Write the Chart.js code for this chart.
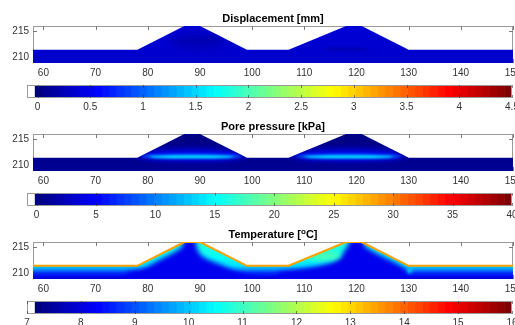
<!DOCTYPE html>
<html>
<head>
<meta charset="utf-8">
<script src="https://cdn.jsdelivr.net/npm/chart.js@4.4.1/dist/chart.umd.min.js"></script>
<style>
  html, body { margin: 0; padding: 0; background: #ffffff; }
  #wrap { position: relative; width: 515px; height: 325px; overflow: hidden; background: #ffffff; }
  #wrap canvas { position: absolute; left: 0; top: 0; }
</style>
</head>
<body>
<div id="wrap"></div>
<script>
// ---- Section geometry: stations (m) and ground-surface elevation (m) ----
const stations = [58, 78, 87, 90, 99, 107, 118, 121, 130, 150];
const surface  = [211.5, 211.5, 216, 216, 211.5, 211.5, 216, 216, 211.5, 211.5];
const xTicks = [60, 70, 80, 90, 100, 110, 120, 130, 140, 150];
const yTicks = [210, 215];
const xRange = [58, 150];
const yRange = [209, 216];

// ---- Displacement [mm] ----
const dispLimits = [-0.1, 4.5];
const dispTicks = [0, 0.5, 1, 1.5, 2, 2.5, 3, 3.5, 4, 4.5];
const dispProfileElev = [209, 211.5, 216];
const dispProfileVal  = [0.31, 0.32, 0.36];
// zones: [station, elevation, half-width, half-height, value]
const dispZones = [
  [89.7, 213.2, 5.5, 1.4, 0.2],
  [118.0, 211.6, 4.5, 0.25, 0.16]
];

// ---- Pore pressure [kPa] ----
const poreLimits = [-0.8, 40];
const poreTicks = [0, 5, 10, 15, 20, 25, 30, 35, 40];
const poreProfileElev = [209, 211.5, 216];
const poreProfileVal  = [0.6, 0.4, 0.0];
const poreZones = [
  [88.4, 212.0, 10.5, 1.0, 5.0],
  [88.4, 211.75, 9.5, 0.45, 9.5],
  [88.4, 211.7, 8.0, 0.2, 15.0],
  [118.5, 212.0, 11.0, 1.0, 5.0],
  [118.5, 211.75, 10.0, 0.45, 9.5],
  [118.5, 211.7, 8.5, 0.2, 15.0]
];

// ---- Temperature [°C] ----
const tempLimits = [7, 16];
const tempTicks = [7, 8, 9, 10, 11, 12, 13, 14, 15, 16];
const tempProfileElev = [209, 209.4, 210.2, 210.8, 211.5, 213, 216];
const tempProfileVal  = [7.9, 8.1, 8.7, 9.5, 10.2, 10.5, 10.8];
const coldCore1Station = [76.0, 76.0, 78.5, 80.0, 82.0, 84.5, 86.5, 87.0, 89.2, 89.3, 89.6, 90.2, 91.5, 94.0, 96.5, 99.0, 101.0, 101.0];
const coldCore1Elev    = [208.0, 210.3, 210.7, 211.3, 212.5, 213.75, 214.9, 216.5, 216.5, 215.3, 214.4, 213.5, 212.7, 211.7, 210.5, 209.6, 209.2, 208.0];
const coldCore2Station = [105.0, 105.0, 109.0, 112.5, 115.5, 117.0, 117.7, 118.3, 118.8, 121.3, 121.6, 124.0, 127.0, 129.2, 129.5, 129.6];
const coldCore2Elev    = [208.0, 210.3, 210.8, 211.4, 212.2, 213.2, 214.3, 215.2, 216.5, 216.5, 215.1, 213.8, 212.3, 211.1, 210.3, 208.0];
const coldCoreValue = 8.1;
const tempZones = [
  [113.5, 213.4, 3.5, 0.9, 11.1],
  [130.2, 210.6, 0.45, 0.55, 10.0]
];
const surfaceTemp = 13.5;

// ---- Colour map: white lowest bin followed by 64 jet levels ----
function jet(t) {
  t = Math.min(1, Math.max(0, t));
  const c = v => Math.round(255 * Math.min(1, Math.max(0, v)));
  return [c(Math.min(4 * t - 1.5, 4.5 - 4 * t)), c(Math.min(4 * t - 0.5, 3.5 - 4 * t)), c(Math.min(4 * t + 0.5, 2.5 - 4 * t))];
}
function fieldColor(v, lim) {
  const bin = (v - lim[0]) / (lim[1] - lim[0]) * 65;
  if (bin < 1) return [255, 255, 255];
  return jet((bin - 1) / 64);
}
const css = c => `rgb(${c[0]},${c[1]},${c[2]})`;

const FONT = '"Liberation Sans", Arial, Helvetica, sans-serif';
const TEXT = '#333333';
const FRAME = '#9a9a9a';

const panels = [
  { title: [{ t: 'Displacement [mm]' }], limits: dispLimits, ticks: dispTicks,
    profileElev: dispProfileElev, profileVal: dispProfileVal, cores: [], zones: dispZones, surfaceValue: null },
  { title: [{ t: 'Pore pressure [kPa]' }], limits: poreLimits, ticks: poreTicks,
    profileElev: poreProfileElev, profileVal: poreProfileVal, cores: [], zones: poreZones, surfaceValue: null },
  { title: [{ t: 'Temperature [' }, { t: 'o', sup: true }, { t: 'C]' }], limits: tempLimits, ticks: tempTicks,
    profileElev: tempProfileElev, profileVal: tempProfileVal,
    cores: [
      { x: coldCore1Station, y: coldCore1Elev, value: coldCoreValue },
      { x: coldCore2Station, y: coldCore2Elev, value: coldCoreValue }
    ],
    zones: tempZones, surfaceValue: surfaceTemp }
];

// ---- Layout of the three panels ----
const W = 515, H = 325;
const fieldTop = [26, 134, 242];
const fieldHeight = 37;
const fieldLeft = 33, fieldRight = 513;
const barOffset = 59, barHeight = 13;
const barLeft = 27, barRight = 512;
const labelBand = 20;

function fixedFit(size) {
  return scale => {
    if (scale.isHorizontal()) scale.height = size; else scale.width = size;
    scale.paddingLeft = scale.paddingRight = scale.paddingTop = scale.paddingBottom = 0;
  };
}
const tickFont = { family: FONT, size: 10 };
const noGrid = { display: false, drawTicks: false };

function makeCanvas() {
  const c = document.createElement('canvas');
  c.width = W; c.height = H;
  c.style.width = W + 'px'; c.style.height = H + 'px';
  document.getElementById('wrap').appendChild(c);
  return c;
}

// Paints the field inside the section outline taken from the surface dataset
function fieldPainter(f) {
  return {
    id: 'fieldPainter',
    beforeDatasetsDraw(chart) {
      const { ctx, chartArea: a, scales: { x, y } } = chart;
      const pts = chart.getDatasetMeta(0).data;
      const base = y.getPixelForValue(y.min);
      ctx.save();
      ctx.beginPath();
      pts.forEach((p, i) => i ? ctx.lineTo(p.x, p.y) : ctx.moveTo(p.x, p.y));
      ctx.lineTo(pts[pts.length - 1].x, base);
      ctx.lineTo(pts[0].x, base);
      ctx.closePath();
      ctx.clip();

      const e0 = f.profileElev[0], e1 = f.profileElev[f.profileElev.length - 1];
      const g = ctx.createLinearGradient(0, y.getPixelForValue(e0), 0, y.getPixelForValue(e1));
      f.profileElev.forEach((e, i) => g.addColorStop((e - e0) / (e1 - e0), css(fieldColor(f.profileVal[i], f.limits))));
      ctx.fillStyle = g;
      ctx.fillRect(a.left, a.top, a.right - a.left, a.bottom - a.top);

      f.cores.forEach(c => {
        ctx.save();
        ctx.filter = 'blur(2.5px)';
        ctx.fillStyle = css(fieldColor(c.value, f.limits));
        ctx.beginPath();
        c.x.forEach((xv, i) => {
          const px = x.getPixelForValue(xv), py = y.getPixelForValue(c.y[i]);
          i ? ctx.lineTo(px, py) : ctx.moveTo(px, py);
        });
        ctx.closePath();
        ctx.fill();
        ctx.restore();
      });

      f.zones.forEach(([cx, cy, rx, ry, v]) => {
        const px = x.getPixelForValue(cx), py = y.getPixelForValue(cy);
        const rpx = Math.abs(x.getPixelForValue(cx + rx) - px);
        const rpy = Math.abs(y.getPixelForValue(cy + ry) - py);
        ctx.save();
        ctx.filter = `blur(${(0.5 * rpy + 0.3).toFixed(2)}px)`;
        ctx.fillStyle = css(fieldColor(v, f.limits));
        ctx.beginPath();
        ctx.ellipse(px, py, rpx, rpy, 0, 0, Math.PI * 2);
        ctx.fill();
        ctx.restore();
      });
      ctx.restore();
    }
  };
}

// Axes box with inward tick marks (drawn beneath the field)
const axesBox = {
  id: 'axesBox',
  beforeDatasetsDraw(chart) {
    const { ctx, chartArea: a, scales: { x, y } } = chart;
    ctx.save();
    ctx.strokeStyle = FRAME;
    ctx.lineWidth = 1;
    ctx.strokeRect(a.left + 0.5, a.top + 0.5, a.right - a.left - 1, a.bottom - a.top - 1);
    ctx.strokeStyle = '#7a7a7a';
    ctx.beginPath();
    x.ticks.forEach(t => {
      const px = Math.round(x.getPixelForValue(t.value)) + 0.5;
      ctx.moveTo(px, a.top); ctx.lineTo(px, a.top + 4);
      ctx.moveTo(px, a.bottom); ctx.lineTo(px, a.bottom - 4);
    });
    y.ticks.forEach(t => {
      const py = Math.round(y.getPixelForValue(t.value)) + 0.5;
      ctx.moveTo(a.left, py); ctx.lineTo(a.left + 4, py);
      ctx.moveTo(a.right, py); ctx.lineTo(a.right - 4, py);
    });
    ctx.stroke();
    ctx.restore();
  }
};

// Panel heading, with optional superscript segment
function headingPlugin(segments) {
  return {
    id: 'heading',
    afterDraw(chart) {
      const { ctx, chartArea: a } = chart;
      const big = `bold 11px ${FONT}`, small = `bold 8px ${FONT}`;
      ctx.save();
      ctx.fillStyle = '#000000';
      ctx.textBaseline = 'alphabetic';
      let total = 0;
      segments.forEach(s => { ctx.font = s.sup ? small : big; total += ctx.measureText(s.t).width; });
      let xPos = (a.left + a.right) / 2 - total / 2;
      const base = a.top - 4;
      segments.forEach(s => {
        ctx.font = s.sup ? small : big;
        ctx.textAlign = 'left';
        ctx.fillText(s.t, xPos, s.sup ? base - 4.5 : base);
        xPos += ctx.measureText(s.t).width;
      });
      ctx.restore();
    }
  };
}

// Colour bar frame and tick marks
const barFrame = {
  id: 'barFrame',
  afterDatasetsDraw(chart) {
    const { ctx, chartArea: a, scales: { x } } = chart;
    ctx.save();
    ctx.strokeStyle = FRAME;
    ctx.lineWidth = 1;
    ctx.strokeRect(a.left + 0.5, a.top + 0.5, a.right - a.left - 1, a.bottom - a.top - 1);
    ctx.strokeStyle = 'rgba(40,40,40,0.55)';
    ctx.beginPath();
    x.ticks.forEach(t => {
      const px = Math.round(x.getPixelForValue(t.value)) + 0.5;
      ctx.moveTo(px, a.top); ctx.lineTo(px, a.top + 3);
      ctx.moveTo(px, a.bottom); ctx.lineTo(px, a.bottom - 3);
    });
    ctx.stroke();
    ctx.restore();
  }
};

panels.forEach((f, k) => {
  const top = fieldTop[k], bottom = top + fieldHeight;

  // Section field
  new Chart(makeCanvas(), {
    type: 'scatter',
    data: {
      datasets: [{
        data: stations.map((s, i) => ({ x: s, y: surface[i] })),
        showLine: true,
        borderColor: f.surfaceValue === null ? 'rgba(0,0,0,0)' : css(fieldColor(f.surfaceValue, f.limits)),
        borderWidth: f.surfaceValue === null ? 0 : 2,
        pointRadius: 0,
        fill: false,
        tension: 0
      }]
    },
    options: {
      responsive: false, animation: false, devicePixelRatio: 1,
      layout: { padding: { left: 0, top: top, right: W - fieldRight, bottom: H - bottom - labelBand } },
      scales: {
        x: {
          type: 'linear', position: 'bottom', min: xRange[0], max: xRange[1],
          grid: noGrid, border: { display: false },
          ticks: { font: tickFont, color: TEXT, padding: 4, maxRotation: 0, autoSkip: false, callback: v => String(v) },
          afterBuildTicks: s => { s.ticks = xTicks.map(v => ({ value: v })); },
          afterFit: fixedFit(labelBand)
        },
        y: {
          type: 'linear', position: 'left', min: yRange[0], max: yRange[1],
          grid: noGrid, border: { display: false },
          ticks: { font: tickFont, color: TEXT, padding: 4, autoSkip: false, callback: v => String(v) },
          afterBuildTicks: s => { s.ticks = yTicks.map(v => ({ value: v })); },
          afterFit: fixedFit(fieldLeft)
        }
      },
      plugins: { legend: { display: false }, tooltip: { enabled: false }, title: { display: false } }
    },
    plugins: [axesBox, fieldPainter(f), headingPlugin(f.title)]
  });

  // Colour bar
  const span = f.limits[1] - f.limits[0];
  const bins = [];
  for (let i = 0; i < 65; i++) {
    bins.push({
      lo: f.limits[0] + i * span / 65,
      hi: f.limits[0] + (i + 1) * span / 65,
      color: i === 0 ? '#ffffff' : css(jet((i - 1) / 63))
    });
  }
  const bTop = top + barOffset, bBottom = bTop + barHeight;
  const band = Math.min(labelBand, H - bBottom);
  new Chart(makeCanvas(), {
    type: 'bar',
    data: {
      labels: [''],
      datasets: bins.map(b => ({
        data: [[b.lo, b.hi]], backgroundColor: b.color, borderWidth: 0,
        grouped: false, barPercentage: 1, categoryPercentage: 1
      }))
    },
    options: {
      indexAxis: 'y',
      responsive: false, animation: false, devicePixelRatio: 1,
      layout: { padding: { left: barLeft, top: bTop, right: W - barRight, bottom: H - bBottom - band } },
      scales: {
        x: {
          type: 'linear', position: 'bottom', min: f.limits[0], max: f.limits[1],
          grid: noGrid, border: { display: false },
          ticks: { font: tickFont, color: TEXT, padding: 3, maxRotation: 0, autoSkip: false, callback: v => String(v) },
          afterBuildTicks: s => { s.ticks = f.ticks.map(v => ({ value: v })); },
          afterFit: fixedFit(band)
        },
        y: { display: false }
      },
      plugins: { legend: { display: false }, tooltip: { enabled: false }, title: { display: false } }
    },
    plugins: [barFrame]
  });
});
</script>
</body>
</html>
